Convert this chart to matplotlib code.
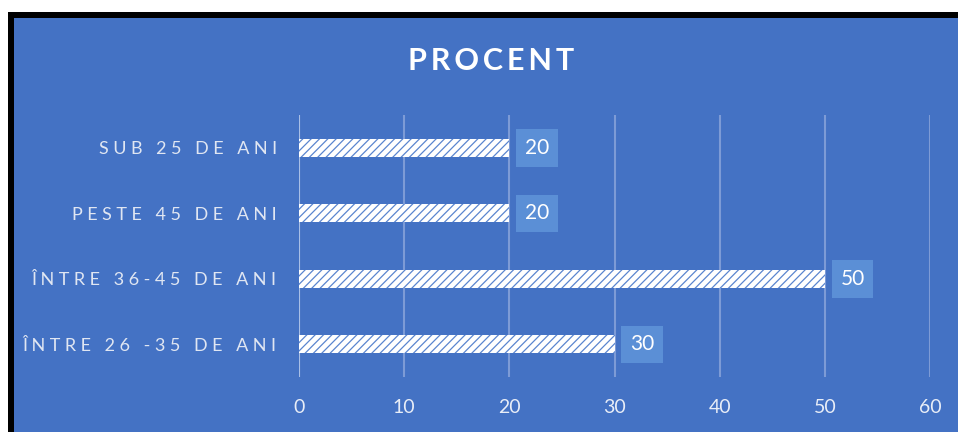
import matplotlib.pyplot as plt
from matplotlib.patches import Rectangle

# Date: grupe de varsta si procent
categorii = ["ÎNTRE 26 -35 DE ANI", "ÎNTRE 36-45 DE ANI", "PESTE 45 DE ANI", "SUB 25 DE ANI"]
procente = [30, 50, 20, 20]
ticks_x = [0, 10, 20, 30, 40, 50, 60]

ALBASTRU = "#4472C4"
FONT = ["Lato", "DejaVu Sans"]
plt.rcParams["font.family"] = FONT
plt.rcParams["hatch.linewidth"] = 0.9


def rarit(text, sep="\u2009\u2009"):
    # spatiere intre litere
    return sep.join(text)


W, H = 958, 432
fig = plt.figure(figsize=(W / 100, H / 100), dpi=100)
fig.patch.set_facecolor("white")

# chenar negru + fundal albastru
fig.add_artist(Rectangle((8 / W, 0), 1, (H - 12) / H, transform=fig.transFigure,
                         facecolor="black", edgecolor="none", zorder=0))
fig.add_artist(Rectangle((14 / W, 0), 1, (H - 18) / H, transform=fig.transFigure,
                         facecolor=ALBASTRU, edgecolor="none", zorder=0))

ax = fig.add_axes([299 / W, 55 / H, 631 / W, 262 / H])
ax.set_facecolor("none")

y = range(len(categorii))
bare = ax.barh(y, procente, height=0.28, color="white", edgecolor="#5a85cf",
               hatch="////", linewidth=0, zorder=3)

for yi, v in zip(y, procente):
    ax.annotate(str(v), (v, yi), xytext=(20, 0), textcoords="offset points",
                ha="center", va="center", color="white", fontsize=15,
                bbox=dict(boxstyle="square,pad=0.42", facecolor="#5b8fd6",
                          edgecolor="none"), zorder=4)

ax.set_xlim(0, 60)
ax.set_ylim(-0.5, 3.5)
ax.set_xticks(ticks_x)
ax.set_yticks(list(y))
ax.set_yticklabels([rarit(c) for c in categorii], color="#e0e6f2", fontsize=13)
ax.tick_params(axis="x", length=0, pad=16, labelsize=14, labelcolor="#e8edf7")
ax.tick_params(axis="y", length=0, pad=16)
ax.grid(axis="x", color="#7d9bd6", linewidth=1.5, zorder=1)
for s in ax.spines.values():
    s.set_visible(False)
ax.axvline(0, color="#a9bfe6", linewidth=1.5, zorder=2)

fig.text(491 / W, 1 - 61 / H, rarit("PROCENT", "\u2009"), ha="center", va="center",
         color="white", fontsize=22, fontweight="bold")

fig.savefig("out.png", dpi=100)
